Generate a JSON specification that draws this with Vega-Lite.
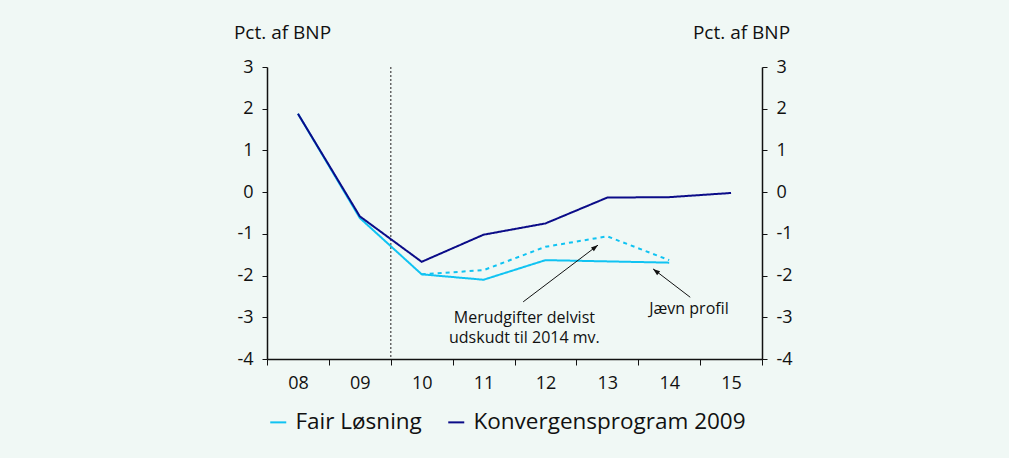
{
  "$schema": "https://vega.github.io/schema/vega-lite/v6.json",
  "width": 495,
  "height": 292,
  "autosize": {"type": "none"},
  "padding": {"left": 267, "top": 67, "right": 247, "bottom": 99},
  "background": "#f0f8f5",
  "config": {
    "view": {"stroke": null},
    "font": "Open Sans",
    "axis": {"grid": false, "labelFont": "Open Sans", "titleFont": "Open Sans", "labelColor": "#111111", "titleColor": "#111111", "domainColor": "#111111", "tickColor": "#111111", "labelFlush": false, "labelOverlap": false}
  },
  "datasets": {
    "series": [
      {"program": "Fair Løsning", "serie": "Fair Løsning – jævn profil", "year": 8, "value": 1.88},
      {"program": "Fair Løsning", "serie": "Fair Løsning – jævn profil", "year": 9, "value": -0.62},
      {"program": "Fair Løsning", "serie": "Fair Løsning – jævn profil", "year": 10, "value": -1.97},
      {"program": "Fair Løsning", "serie": "Fair Løsning – jævn profil", "year": 11, "value": -2.10},
      {"program": "Fair Løsning", "serie": "Fair Løsning – jævn profil", "year": 12, "value": -1.63},
      {"program": "Fair Løsning", "serie": "Fair Løsning – jævn profil", "year": 13, "value": -1.66},
      {"program": "Fair Løsning", "serie": "Fair Løsning – jævn profil", "year": 14, "value": -1.69},
      {"program": "Fair Løsning", "serie": "Fair Løsning – merudgifter delvist udskudt", "year": 10, "value": -1.97},
      {"program": "Fair Løsning", "serie": "Fair Løsning – merudgifter delvist udskudt", "year": 11, "value": -1.87},
      {"program": "Fair Løsning", "serie": "Fair Løsning – merudgifter delvist udskudt", "year": 12, "value": -1.31},
      {"program": "Fair Løsning", "serie": "Fair Løsning – merudgifter delvist udskudt", "year": 13, "value": -1.06},
      {"program": "Fair Løsning", "serie": "Fair Løsning – merudgifter delvist udskudt", "year": 14, "value": -1.63},
      {"program": "Konvergensprogram 2009", "serie": "Konvergensprogram 2009", "year": 8, "value": 1.88},
      {"program": "Konvergensprogram 2009", "serie": "Konvergensprogram 2009", "year": 9, "value": -0.58},
      {"program": "Konvergensprogram 2009", "serie": "Konvergensprogram 2009", "year": 10, "value": -1.67},
      {"program": "Konvergensprogram 2009", "serie": "Konvergensprogram 2009", "year": 11, "value": -1.02},
      {"program": "Konvergensprogram 2009", "serie": "Konvergensprogram 2009", "year": 12, "value": -0.75},
      {"program": "Konvergensprogram 2009", "serie": "Konvergensprogram 2009", "year": 13, "value": -0.13},
      {"program": "Konvergensprogram 2009", "serie": "Konvergensprogram 2009", "year": 14, "value": -0.12},
      {"program": "Konvergensprogram 2009", "serie": "Konvergensprogram 2009", "year": 15, "value": -0.02}
    ],
    "notes": [
      {"note": "Merudgifter delvist\nudskudt til 2014 mv.", "x": 11.64, "y": -2.63, "x2": 12.85, "y2": -1.27, "tx": 11.66, "ty": -3.02},
      {"note": "Jævn profil", "x": 14.34, "y": -2.52, "x2": 13.74, "y2": -1.84, "tx": 14.32, "ty": -2.80}
    ],
    "prognose": [{"year": 9.5}]
  },
  "layer": [
    {
      "mark": {"type": "rule", "color": "#7a7a7a", "strokeWidth": 2},
      "encoding": {"y": {"datum": 0, "type": "quantitative", "axis": null}}
    },
    {
      "data": {"name": "prognose"},
      "mark": {"type": "rule", "color": "#666666", "strokeDash": [2, 2], "strokeWidth": 1.5},
      "encoding": {"x": {"field": "year", "type": "quantitative", "axis": null}}
    },
    {
      "data": {"name": "series"},
      "mark": {"type": "line", "strokeWidth": 2},
      "encoding": {
        "x": {
          "field": "year", "type": "quantitative",
          "scale": {"domain": [7.5, 15.5], "nice": false, "zero": false},
          "axis": {
            "orient": "bottom", "title": null,
            "values": [8, 9, 10, 11, 12, 13, 14, 15],
            "labelExpr": "datum.value < 10 ? '0' + datum.value : '' + datum.value",
            "tickSize": 6, "tickOpacity": 0, "domainWidth": 1.5,
            "labelFontSize": 18, "labelPadding": 9
          }
        },
        "y": {
          "field": "value", "type": "quantitative",
          "scale": {"domain": [-4, 3], "nice": false, "zero": false},
          "axis": {
            "orient": "left", "values": [-4, -3, -2, -1, 0, 1, 2, 3], "tickSize": 5, "tickWidth": 1, "domainWidth": 1.5,
            "labelExpr": "'' + datum.value",
            "labelFontSize": 18, "labelPadding": 9,
            "title": "Pct. af BNP", "titleAngle": 0, "titleFontSize": 19, "titleFontWeight": "normal",
            "titleAlign": "center", "titleBaseline": "middle", "titleX": 15, "titleY": -35
          }
        },
        "color": {
          "field": "program", "type": "nominal",
          "scale": {"domain": ["Fair Løsning", "Konvergensprogram 2009"], "range": ["#10c3f2", "#0b0c88"]},
          "legend": {
            "orient": "none", "legendX": 0, "legendY": 344, "direction": "horizontal", "columns": 2,
            "columnPadding": 22, "symbolType": "stroke", "symbolSize": 256, "symbolStrokeWidth": 2,
            "labelFontSize": 22.5, "labelFont": "Open Sans", "labelColor": "#111111", "labelOffset": 6, "labelLimit": 0, "title": null
          }
        },
        "strokeDash": {
          "field": "serie", "type": "nominal",
          "scale": {"domain": ["Fair Løsning – jævn profil", "Fair Løsning – merudgifter delvist udskudt", "Konvergensprogram 2009"], "range": [[1, 0], [4, 4], [1, 0]]},
          "legend": null
        }
      }
    },
    {
      "data": {"name": "notes"},
      "mark": {"type": "rule", "color": "#111111", "strokeWidth": 1},
      "encoding": {
        "x": {
          "field": "x", "type": "quantitative",
          "axis": {
            "orient": "bottom", "title": null, "values": [7.5, 8.5, 9.5, 10.5, 11.5, 12.5, 13.5, 14.5, 15.5],
            "labels": false, "domain": false, "ticks": true, "tickSize": 6, "tickWidth": 1
          }
        },
        "y": {
          "field": "y", "type": "quantitative",
          "axis": {
            "orient": "right", "values": [-4, -3, -2, -1, 0, 1, 2, 3], "tickSize": 5, "tickWidth": 1, "domainWidth": 1.5,
            "labelExpr": "'' + datum.value",
            "labelFontSize": 18, "labelPadding": 9,
            "title": "Pct. af BNP", "titleAngle": 0, "titleFontSize": 19, "titleFontWeight": "normal",
            "titleAlign": "center", "titleBaseline": "middle", "titleX": -21, "titleY": -35
          }
        },
        "x2": {"field": "x2"},
        "y2": {"field": "y2"}
      }
    },
    {
      "data": {"name": "notes"},
      "transform": [{"filter": "datum.note === 'Jævn profil'"}],
      "mark": {"type": "point", "shape": "M0,0L-0.35,1L0.35,1Z", "size": 196, "filled": true, "color": "#111111", "opacity": 1, "angle": 308},
      "encoding": {
        "x": {"field": "x2", "type": "quantitative", "axis": null},
        "y": {"field": "y2", "type": "quantitative", "axis": null}
      }
    },
    {
      "data": {"name": "notes"},
      "transform": [{"filter": "datum.note !== 'Jævn profil'"}],
      "mark": {"type": "point", "shape": "M0,0L-0.35,1L0.35,1Z", "size": 196, "filled": true, "color": "#111111", "opacity": 1, "angle": 53},
      "encoding": {
        "x": {"field": "x2", "type": "quantitative", "axis": null},
        "y": {"field": "y2", "type": "quantitative", "axis": null}
      }
    },
    {
      "data": {"name": "notes"},
      "mark": {"type": "text", "fontSize": 16, "font": "Open Sans", "color": "#111111", "align": "center", "baseline": "middle", "lineBreak": "\n", "lineHeight": 20},
      "encoding": {
        "x": {"field": "tx", "type": "quantitative", "axis": null},
        "y": {"field": "ty", "type": "quantitative", "axis": null},
        "text": {"field": "note"}
      }
    }
  ],
  "resolve": {"axis": {"x": "independent", "y": "independent"}}
}
